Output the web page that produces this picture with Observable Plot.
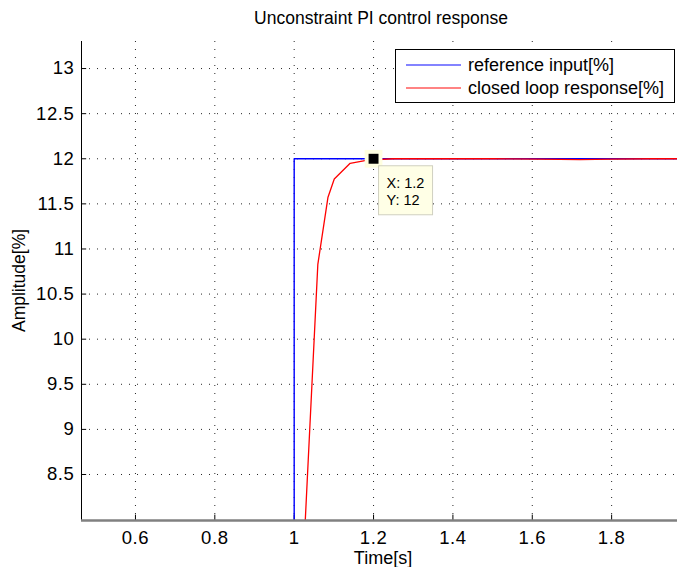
<!DOCTYPE html>
<html>
<head>
<meta charset="utf-8">
<script src="https://cdn.jsdelivr.net/npm/d3@7"></script>
<script src="https://cdn.jsdelivr.net/npm/@observablehq/plot@0.6"></script>
<style>
  html, body { margin: 0; padding: 0; background: #fff; }
  #chart svg { display: block; }
</style>
</head>
<body>
<div id="chart"></div>
<script>
// ---- data ----
const titleText = "Unconstraint PI control response";
const xLabel = "Time[s]";
const yLabel = "Amplitude[%]";
const xDomain = [0.464, 1.966];
const yDomain = [7.99, 13.3];
const xTicks = [0.6, 0.8, 1.0, 1.2, 1.4, 1.6, 1.8];
const yTicks = [8.5, 9, 9.5, 10, 10.5, 11, 11.5, 12, 12.5, 13];

const refTime  = [0.0, 1.0, 1.0, 2.0];
const refValue = [0,   0,   12,  12];

const respTime  = [1.0, 1.02, 1.0596, 1.085, 1.101, 1.141, 1.185, 1.25, 1.5, 1.62, 1.72, 1.8, 1.9, 2.0];
const respValue = [0,   7.28, 10.83,  11.57, 11.775, 11.95, 11.985, 12.0, 12.0, 11.997, 11.99, 11.997, 12.0, 12.0];

const seriesNames = ["reference input[%]", "closed loop response[%]"];
const seriesColors = ["#0000ff", "#ff0000"];
const legendColors = ["#5a5aff", "#ff5a5a"];

const tipX = [1.2];
const tipY = [12];

(function () {
const ref = refTime.map((t, i) => ({t, v: refValue[i]}));
const resp = respTime.map((t, i) => ({t, v: respValue[i]}));
const tip = tipX.map((x, i) => ({x, y: tipY[i]}));

const font = "'Liberation Sans', Arial, Helvetica, sans-serif";
const fmt = d => String(+d.toFixed(2));

const plot = Plot.plot({
  width: 677,
  height: 567,
  marginLeft: 81,
  marginRight: 0,
  marginTop: 41,
  marginBottom: 47,
  style: {fontFamily: font, fontSize: "18.5px", color: "#000", background: "#fff"},
  x: {domain: xDomain, label: null},
  y: {domain: yDomain, label: null},
  marks: [
    Plot.ruleX(xTicks, {stroke: "#000", strokeOpacity: 0.85, strokeDasharray: "1,7"}),
    Plot.ruleY(yTicks, {stroke: "#000", strokeOpacity: 0.85, strokeDasharray: "1,7"}),
    Plot.ruleX(xTicks, {y1: yDomain[0], y2: yDomain[0] + 0.06, stroke: "#000"}),
    Plot.ruleY(yTicks, {x1: xDomain[0], x2: xDomain[0] + 0.013, stroke: "#000"}),
    Plot.axisX({ticks: xTicks, tickSize: 0, tickPadding: 10, tickFormat: fmt}),
    Plot.axisY({ticks: yTicks, tickSize: 0, tickPadding: 7, tickFormat: fmt}),
    Plot.line(ref, {x: "t", y: "v", stroke: seriesColors[0], strokeWidth: 1.4, clip: true}),
    Plot.line(resp, {x: "t", y: "v", stroke: seriesColors[1], strokeWidth: 1.3, clip: true}),
    Plot.ruleX([xDomain[0]], {stroke: "#000", strokeWidth: 1}),
    Plot.ruleY([yDomain[0]], {stroke: "#808080", strokeWidth: 2.5}),
    Plot.dot(tip, {x: "x", y: "y", symbol: "square", r: 10, fill: "#ffffe0", stroke: "none"}),
    Plot.dot(tip, {x: "x", y: "y", symbol: "square", r: 5.6, fill: "#000", stroke: "none"})
  ]
});

const svg = d3.select(plot);
// enlarge and widen the library's tick labels a little
svg.selectAll("text").attr("font-size", "18.5").style("font-size", "18.5px").style("letter-spacing", "0.6px");

const xs = plot.scale("x"), ys = plot.scale("y");
const px = v => xs.apply(v), py = v => ys.apply(v);
const fLeft = px(xDomain[0]), fRight = 677, fTop = py(yDomain[1]), fBottom = py(yDomain[0]);
const cx = (fLeft + fRight) / 2;

svg.append("text").attr("x", cx + 2).attr("y", 24).attr("text-anchor", "middle")
  .style("font-family", font).style("font-size", "17.5px").text(titleText);
svg.append("text").attr("x", cx + 4).attr("y", 564).attr("text-anchor", "middle")
  .style("font-family", font).style("font-size", "18px").text(xLabel);
svg.append("text").attr("transform", `translate(25,${(fTop + fBottom) / 2}) rotate(-90)`)
  .attr("text-anchor", "middle")
  .style("font-family", font).style("font-size", "17.5px").text(yLabel);

const lg = svg.append("g");
lg.append("rect").attr("x", 395.5).attr("y", 49.5).attr("width", 279).attr("height", 53)
  .attr("fill", "#fff").attr("stroke", "#000").attr("stroke-width", 1);
seriesNames.forEach((name, i) => {
  const yy = 65 + i * 23;
  lg.append("line").attr("x1", 406).attr("x2", 461).attr("y1", yy).attr("y2", yy)
    .attr("stroke", legendColors[i]).attr("stroke-width", 1.3);
  lg.append("text").attr("x", 468).attr("y", yy + 6).attr("text-anchor", "start")
    .style("font-family", font).style("font-size", "18px").text(name);
});

const tx = px(tipX[0]), ty = py(tipY[0]);
const bx = tx + 5.5, by = ty + 7.5;
const tg = svg.append("g");
tg.append("rect").attr("x", bx).attr("y", by).attr("width", 54).attr("height", 49)
  .attr("fill", "#ffffe6").attr("stroke", "#d0d0c0").attr("stroke-width", 1);
tg.append("text").attr("x", bx + 8).attr("y", by + 22).attr("text-anchor", "start")
  .style("font-family", font).style("font-size", "14.5px").text(`X: ${tipX[0]}`);
tg.append("text").attr("x", bx + 8).attr("y", by + 39).attr("text-anchor", "start")
  .style("font-family", font).style("font-size", "14.5px").text(`Y: ${tipY[0]}`);

document.getElementById("chart").appendChild(plot);
})();
</script>
</body>
</html>
